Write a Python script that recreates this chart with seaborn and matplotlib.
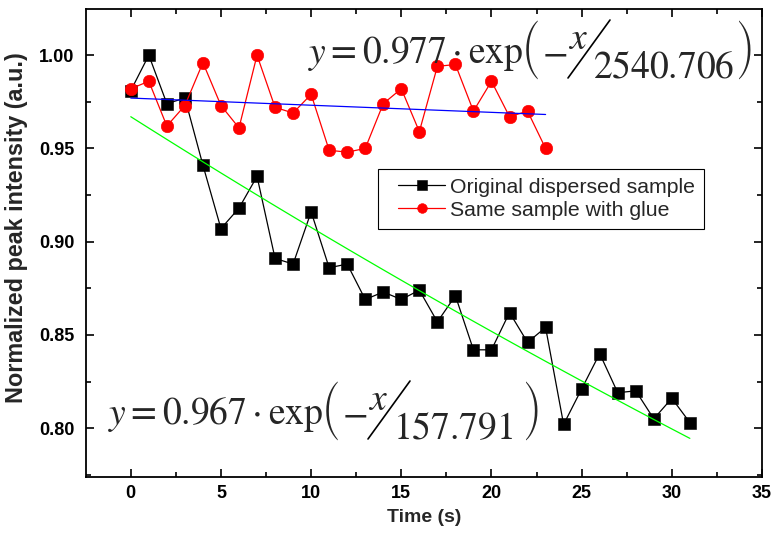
import os
import matplotlib
matplotlib.use("Agg")
import matplotlib.pyplot as plt
import seaborn as sns
import numpy as np
import pandas as pd
from matplotlib.lines import Line2D
from matplotlib.legend_handler import HandlerLine2D
from matplotlib.font_manager import FontProperties

# ---------------- data ----------------
time_orig = list(range(0, 32))
orig_vals = [0.981, 1.000, 0.974, 0.977, 0.941, 0.907, 0.918, 0.935, 0.891, 0.888,
             0.916, 0.886, 0.888, 0.869, 0.873, 0.869, 0.874, 0.857, 0.871, 0.842,
             0.842, 0.862, 0.846, 0.854, 0.802, 0.821, 0.840, 0.819, 0.820, 0.805,
             0.816, 0.803]
time_glue = list(range(0, 24))
glue_vals = [0.982, 0.986, 0.962, 0.973, 0.996, 0.973, 0.961, 1.000, 0.972, 0.969,
             0.979, 0.949, 0.948, 0.950, 0.974, 0.982, 0.959, 0.994, 0.995, 0.970,
             0.986, 0.967, 0.970, 0.950]
fit_orig = (0.967, 157.791)
fit_glue = (0.977, 2540.706)
label_orig = "Original dispersed sample"
label_glue = "Same sample with glue"
x_ticks = [0, 5, 10, 15, 20, 25, 30, 35]
y_ticks = [0.80, 0.85, 0.90, 0.95, 1.00]

# ---------------- style ----------------
sns.set_theme(style="ticks")
plt.rcParams["font.family"] = ["Liberation Sans", "DejaVu Sans"]
plt.rcParams["mathtext.fontset"] = "stix"

W, H = 775, 533
AX_L, AX_R, AX_T, AX_B = 85.7, 762, 9.3, 477
fig = plt.figure(figsize=(W / 100, H / 100), dpi=100)
ax = fig.add_axes([AX_L / W, 1 - AX_B / H, (AX_R - AX_L) / W, (AX_B - AX_T) / H])

df_o = pd.DataFrame({"Time (s)": time_orig, "v": orig_vals})
df_g = pd.DataFrame({"Time (s)": time_glue, "v": glue_vals})

sns.lineplot(data=df_o, x="Time (s)", y="v", ax=ax, color="black", lw=0.9,
             marker="s", markersize=8, markeredgecolor="black", markeredgewidth=0.4,
             label=label_orig, legend=False, zorder=3)
sns.lineplot(data=df_g, x="Time (s)", y="v", ax=ax, color="red", lw=0.9,
             marker="o", markersize=9, markeredgecolor="red", markeredgewidth=0.4,
             label=label_glue, legend=False, zorder=4)

t_o = np.array(time_orig, dtype=float)
t_g = np.array(time_glue, dtype=float)
sns.lineplot(x=t_o, y=fit_orig[0] * np.exp(-t_o / fit_orig[1]), ax=ax,
             color="#00ff00", lw=0.9, zorder=5, legend=False)
sns.lineplot(x=t_g, y=fit_glue[0] * np.exp(-t_g / fit_glue[1]), ax=ax,
             color="#0000ff", lw=0.9, zorder=5, legend=False)

ax.set_xlim(-2.5, 35)
ax.set_ylim(0.7738, 1.0246)
ax.set_xticks(x_ticks)
ax.set_yticks(y_ticks)
ax.set_xticks(np.arange(2.5, 35, 5), minor=True)
ax.set_yticks(np.arange(0.775, 1.02, 0.05), minor=True)
ax.set_xticklabels([f"{v:g}" for v in x_ticks], fontweight="bold", fontsize=13)
ax.set_yticklabels([f"{v:.2f}" for v in y_ticks], fontweight="bold", fontsize=13)
ax.tick_params(which="both", direction="in", top=True, right=True, width=1.2, colors="black")
ax.tick_params(which="major", length=6)
ax.tick_params(which="minor", length=3.5)
ax.tick_params(axis="y", which="major", pad=8)
ax.tick_params(axis="x", which="major", pad=6)
for s in ax.spines.values():
    s.set_linewidth(1.3)
    s.set_color("black")

ax.set_xlabel("Time (s)", fontweight="bold", fontsize=14, labelpad=5)
ax.set_ylabel("Normalized peak intensity (a.u.)", fontweight="bold", fontsize=16.8)
ax.yaxis.set_label_coords((28 - AX_L) / (AX_R - AX_L), (AX_B - 228) / (AX_B - AX_T))

handles = [ax.lines[0], ax.lines[1]]
leg = ax.legend(handles=handles, labels=[label_orig, label_glue], loc="upper left",
                bbox_to_anchor=((378 - AX_L) / (AX_R - AX_L), (AX_B - 169) / (AX_B - AX_T)),
                borderaxespad=0, frameon=True, fancybox=False, framealpha=1,
                edgecolor="black", fontsize=15.3, handlelength=2.75, handletextpad=0.24,
                borderpad=0.42, labelspacing=0.18,
                handler_map={Line2D: HandlerLine2D(xpad=0.52)})
leg.get_frame().set_linewidth(0.8)
for lh in leg.get_lines():
    lh.set_markersize(7)

# ---------------- equations ----------------
def fx(px):
    return px / W

def fy(py):
    return 1 - py / H

paren_path = os.path.join(matplotlib.get_data_path(), "fonts", "ttf", "STIXSizThreeSymReg.ttf")
paren_fp = FontProperties(fname=paren_path, size=17) if os.path.exists(paren_path) else None

def equation(x0, base, amp, denom, denom_right):
    fs = 27
    fig.text(fx(x0), fy(base), r"$y=%s\cdot\mathrm{exp}$" % amp, fontsize=fs,
             ha="left", va="baseline")
    pl = x0 + 214
    pr = denom_right + 4
    if paren_fp is not None:
        fig.text(fx(pl), fy(base - 13), "(", fontproperties=paren_fp, ha="left", va="center")
        fig.text(fx(pr), fy(base - 13), ")", fontproperties=paren_fp, ha="left", va="center")
    else:
        fig.text(fx(pl), fy(base - 13), r"$($", fontsize=40, ha="left", va="center")
        fig.text(fx(pr), fy(base - 13), r"$)$", fontsize=40, ha="left", va="center")
    fig.text(fx(x0 + 234), fy(base), r"$-$", fontsize=fs, ha="left", va="baseline")
    fig.text(fx(x0 + 260), fy(base - 14), r"$x$", fontsize=fs, ha="left", va="baseline")
    fig.add_artist(Line2D([fx(x0 + 260), fx(x0 + 302)], [fy(base + 15), fy(base - 43)],
                          transform=fig.transFigure, color="black", lw=1.2))
    fig.text(fx(x0 + 285), fy(base + 15), r"$%s$" % denom, fontsize=fs, ha="left",
             va="baseline")

equation(308, 63, "0.977", "2540.706", 733)
equation(108, 424, "0.967", "157.791", 520)

fig.savefig("out.png", dpi=100)
